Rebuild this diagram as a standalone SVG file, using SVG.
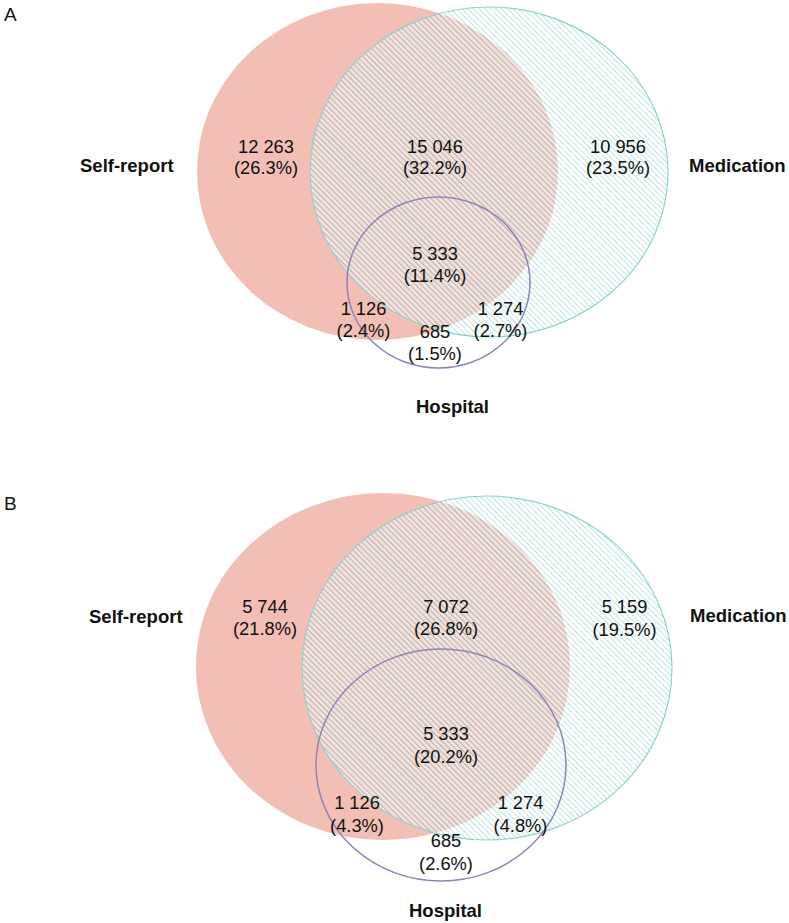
<svg xmlns="http://www.w3.org/2000/svg" width="789" height="923" viewBox="0 0 789 923">
<style>
.num{font-family:"Liberation Sans",Arial,sans-serif;font-size:18.3px;fill:#111;text-anchor:middle}
.lab{font-family:"Liberation Sans",Arial,sans-serif;font-size:18.5px;font-weight:bold;fill:#111}
.pan{font-family:"Liberation Sans",Arial,sans-serif;font-size:19px;fill:#111}
.self{fill:#F3BFB5}
.lighten{fill:#ffffff;fill-opacity:0.5}
.medh{fill:url(#hatchTeal)}
.medg{fill:url(#hatchGrey)}
.medo{fill:none;stroke:#8FD3CB;stroke-width:1.2}
.hosp{fill:none;stroke:#8A86B6;stroke-width:1.5}
</style>
<defs>
<pattern id="hatchTeal" patternUnits="userSpaceOnUse" width="4" height="4" patternTransform="rotate(-45)">
<line x1="0.5" y1="0" x2="0.5" y2="4" stroke="#9ED8D0" stroke-width="0.65"/>
</pattern>
<pattern id="hatchGrey" patternUnits="userSpaceOnUse" width="4" height="4" patternTransform="rotate(-45)">
<line x1="0.5" y1="0" x2="0.5" y2="4" stroke="#ADA5A4" stroke-width="0.65"/>
</pattern>
<clipPath id="clipA"><ellipse cx="377.5" cy="171.5" rx="180.5" ry="168.5"/></clipPath>
<clipPath id="clipB"><ellipse cx="383" cy="666.5" rx="187" ry="173.5"/></clipPath>
</defs>

<g id="panelA">
<text class="pan" x="4" y="21">A</text>
<g id="A-self-report">
<ellipse class="self" cx="377.5" cy="171.5" rx="180.5" ry="168.5"/>
<text class="lab" x="80" y="172">Self-report</text>
</g>
<g id="A-medication">
<ellipse class="lighten" cx="489" cy="172" rx="179" ry="165"/>
<ellipse class="medh" cx="489" cy="172" rx="179" ry="165"/>
<ellipse class="medg" cx="489" cy="172" rx="179" ry="165" clip-path="url(#clipA)"/>
<ellipse class="medo" cx="489" cy="172" rx="179" ry="165"/>
<text class="lab" x="689" y="172">Medication</text>
</g>
<g id="A-hospital">
<ellipse class="hosp" cx="438.5" cy="282.5" rx="91.5" ry="85.5"/>
<text class="lab" x="416" y="413">Hospital</text>
</g>
<g id="A-counts">
<text class="num" x="266" y="153">12 263</text>
<text class="num" x="266" y="174">(26.3%)</text>
<text class="num" x="435" y="153">15 046</text>
<text class="num" x="435" y="174">(32.2%)</text>
<text class="num" x="618" y="153">10 956</text>
<text class="num" x="618" y="174">(23.5%)</text>
<text class="num" x="435" y="260">5 333</text>
<text class="num" x="435" y="282">(11.4%)</text>
<text class="num" x="363.5" y="315">1 126</text>
<text class="num" x="363.5" y="337">(2.4%)</text>
<text class="num" x="500.5" y="315">1 274</text>
<text class="num" x="500.5" y="337">(2.7%)</text>
<text class="num" x="435" y="338">685</text>
<text class="num" x="435" y="360">(1.5%)</text>
</g>
</g>

<g id="panelB">
<text class="pan" x="4" y="510">B</text>
<g id="B-self-report">
<ellipse class="self" cx="383" cy="666.5" rx="187" ry="173.5"/>
<text class="lab" x="89" y="623">Self-report</text>
</g>
<g id="B-medication">
<ellipse class="lighten" cx="487" cy="668" rx="185" ry="172"/>
<ellipse class="medh" cx="487" cy="668" rx="185" ry="172"/>
<ellipse class="medg" cx="487" cy="668" rx="185" ry="172" clip-path="url(#clipB)"/>
<ellipse class="medo" cx="487" cy="668" rx="185" ry="172"/>
<text class="lab" x="690" y="622">Medication</text>
</g>
<g id="B-hospital">
<ellipse class="hosp" cx="441" cy="765" rx="125" ry="116"/>
<text class="lab" x="409" y="917">Hospital</text>
</g>
<g id="B-counts">
<text class="num" x="265" y="613">5 744</text>
<text class="num" x="265" y="635">(21.8%)</text>
<text class="num" x="446" y="613">7 072</text>
<text class="num" x="446" y="635">(26.8%)</text>
<text class="num" x="624.5" y="613">5 159</text>
<text class="num" x="624.5" y="636">(19.5%)</text>
<text class="num" x="446" y="740">5 333</text>
<text class="num" x="446" y="763">(20.2%)</text>
<text class="num" x="357" y="809">1 126</text>
<text class="num" x="357" y="832">(4.3%)</text>
<text class="num" x="520.5" y="809">1 274</text>
<text class="num" x="520.5" y="832">(4.8%)</text>
<text class="num" x="446" y="847">685</text>
<text class="num" x="446" y="870">(2.6%)</text>
</g>
</g>
</svg>
